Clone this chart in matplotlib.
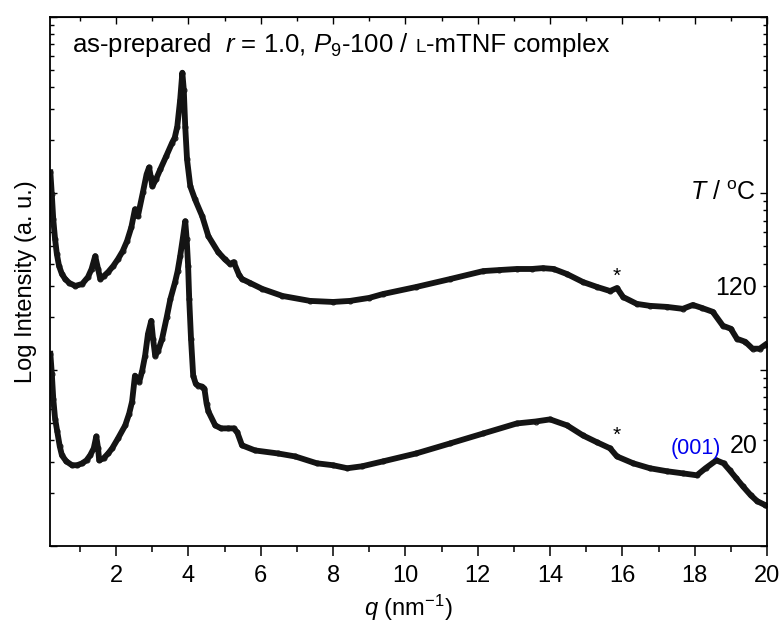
import numpy as np
import matplotlib
matplotlib.use('Agg')
import matplotlib.pyplot as plt
from matplotlib.ticker import MultipleLocator, LogLocator, NullFormatter

plt.rcParams['font.family'] = ['Liberation Sans', 'DejaVu Sans']
plt.rcParams['mathtext.fontset'] = 'custom'
plt.rcParams['mathtext.rm'] = 'Liberation Sans'
plt.rcParams['mathtext.it'] = 'Liberation Sans:italic'

# q in nm^-1, intensity given as log10
q_120 = [0.18, 0.22, 0.26, 0.31, 0.36, 0.42, 0.5, 0.59, 0.7, 0.87, 1.06, 1.22, 1.32,
         1.42, 1.5, 1.56, 1.66, 1.78, 1.92, 2.05, 2.18, 2.3, 2.42, 2.52, 2.6, 2.74,
         2.84, 2.91, 2.96, 3.0, 3.1, 3.22, 3.38, 3.55, 3.62, 3.69, 3.77, 3.83, 3.87,
         3.91, 3.96, 4.05, 4.18, 4.38, 4.55, 4.82, 5.0, 5.15, 5.25, 5.4, 5.48, 5.7,
         6.04, 6.6, 7.36, 8.0, 8.47, 9.0, 9.38, 10.3, 11.24, 12.15, 12.6, 13.08, 13.5,
         13.8, 14.1, 14.47, 14.91, 15.3, 15.66, 15.85, 16.02, 16.4, 16.76, 17.23,
         17.67, 17.95, 18.2, 18.5, 18.78, 19.0, 19.17, 19.4, 19.6, 19.8, 19.95]
log_120 = [2.119, 1.994, 1.853, 1.740, 1.655, 1.588, 1.542, 1.514, 1.492, 1.475, 1.486,
           1.525, 1.571, 1.644, 1.571, 1.514, 1.531, 1.554, 1.588, 1.627, 1.672, 1.729,
           1.808, 1.910, 1.870, 2.006, 2.107, 2.147, 2.090, 2.040, 2.079, 2.136, 2.209,
           2.288, 2.316, 2.379, 2.531, 2.684, 2.588, 2.379, 2.192, 2.040, 1.966, 1.870,
           1.757, 1.667, 1.627, 1.599, 1.610, 1.537, 1.514, 1.492, 1.458, 1.418, 1.390,
           1.384, 1.390, 1.407, 1.429, 1.469, 1.514, 1.559, 1.565, 1.571, 1.571, 1.576,
           1.571, 1.542, 1.497, 1.469, 1.446, 1.463, 1.412, 1.373, 1.362, 1.356, 1.345,
           1.367, 1.350, 1.328, 1.249, 1.232, 1.175, 1.158, 1.119, 1.119, 1.141]

q_20 = [0.18, 0.22, 0.26, 0.31, 0.37, 0.44, 0.5, 0.62, 0.78, 0.92, 1.06, 1.18, 1.28,
        1.38, 1.45, 1.5, 1.53, 1.65, 1.78, 1.89, 2.05, 2.25, 2.36, 2.44, 2.52, 2.58,
        2.64, 2.72, 2.8, 2.88, 2.97, 3.02, 3.08, 3.16, 3.27, 3.4, 3.5, 3.63, 3.7, 3.77,
        3.84, 3.91, 3.95, 3.99, 4.02, 4.07, 4.13, 4.2, 4.27, 4.38, 4.44, 4.5, 4.55,
        4.74, 4.9, 5.1, 5.25, 5.35, 5.48, 5.84, 6.47, 6.95, 7.55, 8.0, 8.39, 8.8, 9.38,
        10.3, 11.24, 12.15, 13.08, 13.6, 14.0, 14.47, 14.91, 15.3, 15.66, 15.85, 16.3,
        16.76, 17.23, 17.67, 18.06, 18.3, 18.6, 18.8, 18.97, 19.15, 19.33, 19.55,
        19.73, 19.95]
log_20 = [1.090, 0.977, 0.836, 0.723, 0.650, 0.565, 0.514, 0.480, 0.458, 0.458, 0.469,
          0.486, 0.514, 0.554, 0.621, 0.554, 0.486, 0.497, 0.525, 0.554, 0.610, 0.684,
          0.751, 0.819, 0.966, 0.949, 0.932, 0.994, 1.079, 1.203, 1.277, 1.175, 1.079,
          1.107, 1.175, 1.299, 1.401, 1.497, 1.559, 1.644, 1.740, 1.842, 1.740, 1.588,
          1.401, 1.175, 0.966, 0.921, 0.910, 0.904, 0.893, 0.808, 0.763, 0.684, 0.667,
          0.667, 0.667, 0.644, 0.571, 0.542, 0.525, 0.508, 0.469, 0.458, 0.441, 0.452,
          0.480, 0.525, 0.582, 0.638, 0.695, 0.706, 0.718, 0.684, 0.627, 0.588, 0.554,
          0.508, 0.469, 0.441, 0.424, 0.412, 0.401, 0.441, 0.486, 0.469, 0.429, 0.384,
          0.339, 0.288, 0.254, 0.232]

fig = plt.figure(figsize=(7.83, 6.24), dpi=100)
ax = fig.add_axes([50/783, 1 - 546/624, 717/783, 529/624])

for q, lg in [(q_120, log_120), (q_20, log_20)]:
    ax.plot(q, 10 ** np.array(lg), color='#141414', lw=4.2, marker='o', ms=3.5,
            mfc='none', mec='#141414', mew=0.8, solid_joinstyle='round')

ax.set_yscale('log')
ax.set_ylim(1, 1000)
ax.set_xlim(0.17, 20)
ax.xaxis.set_major_locator(MultipleLocator(2))
ax.xaxis.set_minor_locator(MultipleLocator(1))
ax.yaxis.set_major_locator(LogLocator(base=10))
ax.yaxis.set_minor_locator(LogLocator(base=10, subs=np.arange(2, 10)))
ax.yaxis.set_major_formatter(NullFormatter())
ax.yaxis.set_minor_formatter(NullFormatter())
ax.set_xticks([2, 4, 6, 8, 10, 12, 14, 16, 18, 20])

ax.tick_params(axis='x', which='both', direction='out', top=False, labelsize=17,
               width=1.1, pad=7)
ax.tick_params(axis='x', which='major', length=7)
ax.tick_params(axis='x', which='minor', length=4)
ax.tick_params(axis='y', which='both', direction='in', right=True, width=1.0)
ax.tick_params(axis='y', which='major', length=5)
ax.tick_params(axis='y', which='minor', length=3)
for s in ax.spines.values():
    s.set_linewidth(1.3)

# top ticks pointing inward
top = ax.secondary_xaxis('top')
top.xaxis.set_major_locator(MultipleLocator(2))
top.xaxis.set_minor_locator(MultipleLocator(1))
top.tick_params(which='both', direction='in', labeltop=False, width=1.0)
top.tick_params(which='major', length=5)
top.tick_params(which='minor', length=3)

ax.set_xlabel(r'$q$ (nm$^{\mathrm{-1}}$)', fontsize=17, labelpad=4)
ax.set_ylabel('Log Intensity (a. u.)', fontsize=17, labelpad=6)

# title line built from pieces so the "L" can be set smaller
t1 = ax.text(0.031, 0.934, r'as-prepared  $r$ = 1.0, $P_{\mathrm{9}}$-100 /',
             transform=ax.transAxes, fontsize=18.5, va='baseline', ha='left')
fig.canvas.draw()
bb = t1.get_window_extent(fig.canvas.get_renderer())
x1 = ax.transAxes.inverted().transform((bb.x1 + 6, bb.y0))[0]
t2 = ax.text(x1, 0.934, 'L', transform=ax.transAxes, fontsize=13.5, va='baseline', ha='left')
fig.canvas.draw()
bb = t2.get_window_extent(fig.canvas.get_renderer())
x2 = ax.transAxes.inverted().transform((bb.x1, bb.y0))[0]
ax.text(x2, 0.934, '-mTNF complex', transform=ax.transAxes, fontsize=18.5,
        va='baseline', ha='left')

ax.text(0.985, (546 - 200) / 529, r'$T$ / $^{\mathrm{o}}$C', transform=ax.transAxes,
        fontsize=18, ha='right', va='baseline')
ax.text(0.986, (546 - 295) / 529, '120', transform=ax.transAxes, fontsize=18,
        ha='right', va='baseline')
ax.text(0.987, (546 - 453) / 529, '20', transform=ax.transAxes, fontsize=18,
        ha='right', va='baseline')
ax.text((721 - 50) / 717, (546 - 454) / 529, '(001)', transform=ax.transAxes,
        fontsize=15.5, color='#0000ee', ha='right', va='baseline')
ax.text(15.85, 10 ** (3 - (277 - 17) / 177), '*', fontsize=15, ha='center', va='center')
ax.text(15.85, 10 ** (3 - (437 - 17) / 177), '*', fontsize=15, ha='center', va='center')

fig.savefig('out.png', dpi=100)
